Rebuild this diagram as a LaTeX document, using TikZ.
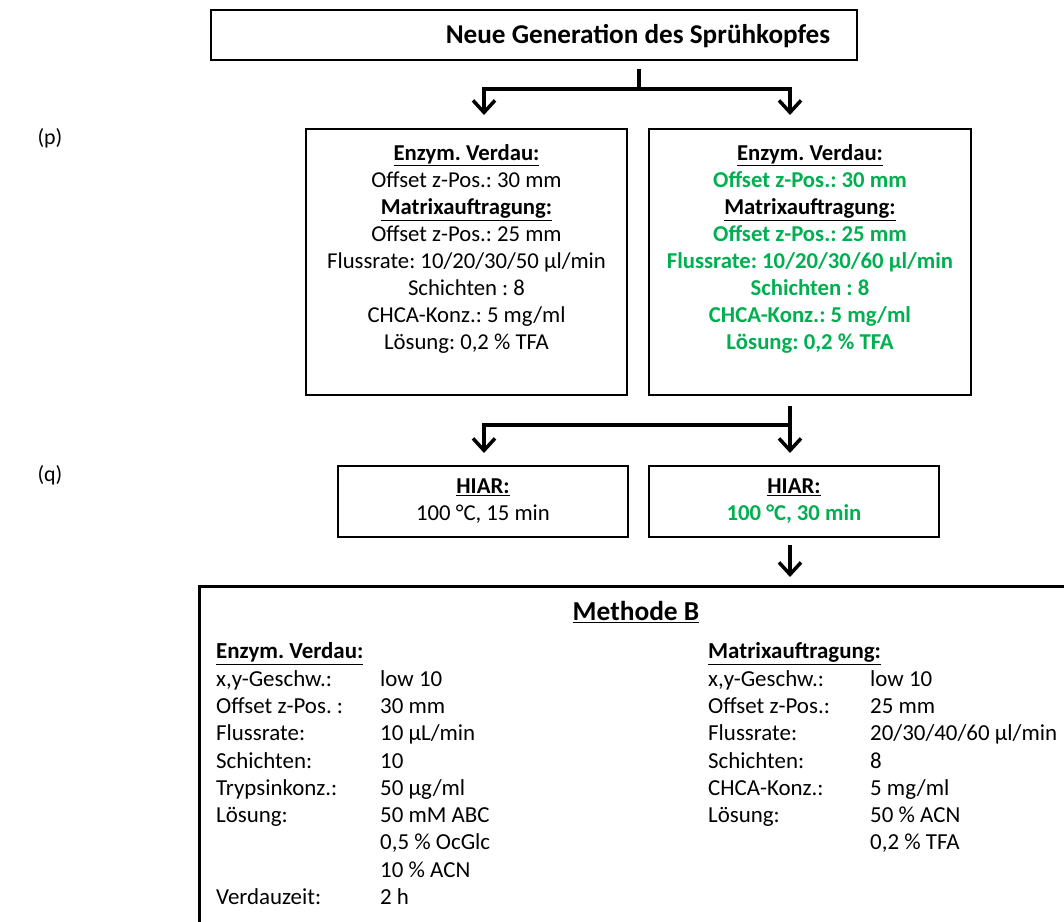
\documentclass[tikz,border=0pt]{standalone}
\usepackage{fontspec}
\setmainfont{Carlito}
\usetikzlibrary{arrows.meta,calc}
\definecolor{wgreen}{HTML}{00B050}
\frenchspacing
\begin{document}
\begin{tikzpicture}[x=1bp,y=-1bp,
  frame/.style={draw, line width=2bp, inner sep=0pt},
  flowline/.style={line width=3.5bp},
  flow/.style={line width=3.5bp, -{Straight Barb[length=12bp,width=22bp]}},
  body/.style={font=\frenchspacing\fontsize{22.8}{27.1}\selectfont, align=center, inner sep=0pt, anchor=north},
  gbody/.style={body, text=wgreen, font=\frenchspacing\bfseries\fontsize{22.8}{27.1}\selectfont},
  tab/.style={font=\frenchspacing\fontsize{23}{27.4}\selectfont, inner sep=0pt, anchor=north west},
  lbl/.style={font=\fontsize{22}{24}\selectfont, inner sep=0pt}
]
\useasboundingbox (0,0) rectangle (1064,922);
\clip (0,0) rectangle (1064,922);

% side labels
\node[lbl] (p) at (50,138) {(p)};
\node[lbl] (q) at (50,475) {(q)};

% title
\node[frame, line width=2.5bp, minimum width=648, minimum height=50] (top) at (534,35) {};
\node[font=\frenchspacing\bfseries\fontsize{27.3}{30}\selectfont, inner sep=0pt] (title) at (638,36) {Neue Generation des Sprühkopfes};

% middle boxes
\node[frame, minimum width=323, minimum height=266] (mL) at (466.5,262) {};
\node[frame, minimum width=324, minimum height=266] (mR) at (810,262) {};
\node[body] (mLt) at (466.5,144.5) {\textbf{\underline{Enzym. Verdau:}}\\
Offset z-Pos.: 30 mm\\
\textbf{\underline{Matrixauftragung:}}\\
Offset z-Pos.: 25 mm\\
Flussrate: 10/20/30/50 µl/min\\
Schichten : 8\\
CHCA-Konz.: 5 mg/ml\\
Lösung: 0,2 \% TFA};
\node[gbody] (mRt) at (810,144.5) {\textcolor{black}{\underline{Enzym. Verdau:}}\\
Offset z-Pos.: 30 mm\\
\textcolor{black}{\underline{Matrixauftragung:}}\\
Offset z-Pos.: 25 mm\\
Flussrate: 10/20/30/60 µl/min\\
Schichten : 8\\
CHCA-Konz.: 5 mg/ml\\
Lösung: 0,2 \% TFA};

% HIAR boxes
\node[frame, minimum width=292, minimum height=71] (hL) at (483,501.5) {};
\node[frame, minimum width=292, minimum height=71] (hR) at (794,501.5) {};
\node[body] (hLt) at (483,478.5) {\textbf{\underline{HIAR:}}\\100 °C, 15 min};
\node[body] (hRt) at (794,478.5) {\textbf{\underline{HIAR:}}\\\textcolor{wgreen}{\textbf{100 °C, 30 min}}};

% Methode B box
\node[frame, line width=3bp, minimum width=920, minimum height=380, anchor=north west] (mB) at (198,585) {};
\node[font=\bfseries\fontsize{27.5}{30}\selectfont, inner sep=0pt] (mBt) at (636,612) {\underline{Methode B}};
\node[tab] (mBl) at (216,639.5) {\begin{tabular}{@{}p{164bp}@{}l@{}}
\textbf{\underline{Enzym. Verdau:}} & \\
x,y-Geschw.: & low 10\\
Offset z-Pos. : & 30 mm\\
Flussrate: & 10 µL/min\\
Schichten: & 10\\
Trypsinkonz.: & 50 µg/ml\\
Lösung: & 50 mM ABC\\
 & 0,5 \% OcGlc\\
 & 10 \% ACN\\
Verdauzeit: & 2 h
\end{tabular}};
\node[tab] (mBr) at (708,639.5) {\begin{tabular}{@{}p{162bp}@{}l@{}}
\textbf{\underline{Matrixauftragung:}} & \\
x,y-Geschw.: & low 10\\
Offset z-Pos.: & 25 mm\\
Flussrate: & 20/30/40/60 µl/min\\
Schichten: & 8\\
CHCA-Konz.: & 5 mg/ml\\
Lösung: & 50 \% ACN\\
 & 0,2 \% TFA
\end{tabular}};

% connectors
\coordinate (s1) at (639,69);
\coordinate (j1) at (639,89);
\coordinate (t1L) at (484,115);
\coordinate (t1R) at (790,115);
\draw[flow] (s1) -- (j1) -| (t1L);
\draw[flow] (j1) -| (t1R);

\coordinate (s2) at (790,406);
\coordinate (j2) at (790,425);
\coordinate (t2L) at (484,453);
\coordinate (t2R) at (790,453);
\draw[flow] (s2) -- (t2R);
\draw[flow] (j2) -| (t2L);

\coordinate (s3) at (790,545);
\coordinate (t3) at (790,577);
\draw[flow] (s3) -- (t3);
\end{tikzpicture}
\end{document}
